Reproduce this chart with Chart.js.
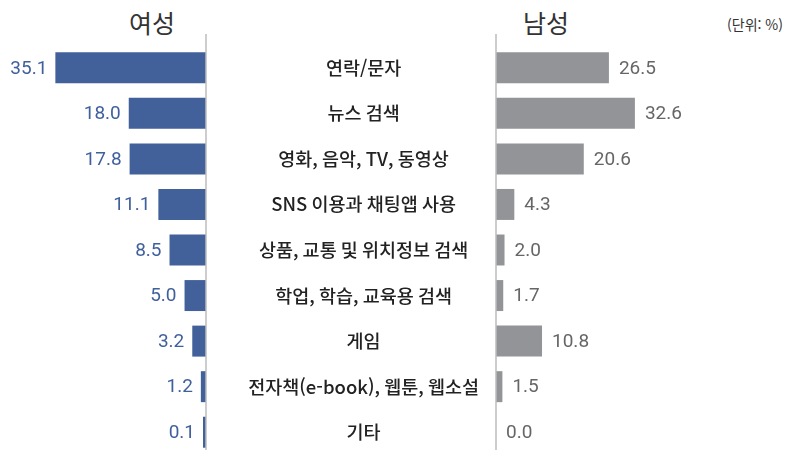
<!DOCTYPE html>
<html lang="ko">
<head>
<meta charset="utf-8">
<script src="https://cdn.jsdelivr.net/npm/chart.js@4"></script>
<style>
  html, body { margin: 0; padding: 0; background: #fff; overflow: hidden; }
  #wrap { position: relative; width: 790px; height: 450px; overflow: hidden; }
  .cv { position: absolute; top: 0; }
  .head { position: absolute; text-align: center; color: #333; font-family: "Noto Sans CJK KR", "Noto Sans", sans-serif; }
</style>
</head>
<body>
<div id="wrap">
  <div class="head" style="left:102px; top:5px; width:100px; font-size:25px; line-height:34px;">여성</div>
  <div class="head" style="left:496px; top:5px; width:100px; font-size:25px; line-height:34px;">남성</div>
  <div class="head" style="left:705px; top:14px; width:100px; font-size:14px; line-height:20px;">(단위: %)</div>
  <div class="cv" style="left:0; width:208px; height:455px;"><canvas id="leftChart"></canvas></div>
  <div class="cv" style="left:206px; width:584px; height:455px;"><canvas id="rightChart"></canvas></div>
</div>
<script>
const categories = ['연락/문자', '뉴스 검색', '영화, 음악, TV, 동영상', 'SNS 이용과 채팅앱 사용',
    '상품, 교통 및 위치정보 검색', '학업, 학습, 교육용 검색', '게임', '전자책(e-book), 웹툰, 웹소설', '기타'];
const female = [35.1, 18.0, 17.8, 11.1, 8.5, 5.0, 3.2, 1.2, 0.1];
const male = [26.5, 32.6, 20.6, 4.3, 2.0, 1.7, 10.8, 1.5, 0.0];

const blue = '#42619b';
const gray = '#939498';

// vertical axis line, runs up above the plot area
const axisLine = {
    id: 'axisLine',
    afterDatasetsDraw(chart, args, opts) {
        const ctx = chart.ctx;
        const x = opts.side === 'right' ? chart.chartArea.right : chart.chartArea.left;
        ctx.save();
        ctx.strokeStyle = '#bcbcbc';
        ctx.lineWidth = 1.5;
        ctx.beginPath();
        ctx.moveTo(x, 34);
        ctx.lineTo(x, chart.height);
        ctx.stroke();
        ctx.restore();
    }
};

// value labels next to the bar ends
const valueLabels = {
    id: 'valueLabels',
    afterDatasetsDraw(chart, args, opts) {
        const ctx = chart.ctx;
        const meta = chart.getDatasetMeta(0);
        const data = chart.data.datasets[0].data;
        ctx.save();
        ctx.font = '19px Roboto, "Noto Sans", sans-serif';
        ctx.fillStyle = opts.color;
        ctx.textBaseline = 'middle';
        meta.data.forEach((bar, i) => {
            const txt = data[i].toFixed(1);
            if (opts.side === 'left') {
                ctx.textAlign = 'right';
                ctx.fillText(txt, bar.x - 8, bar.y + 1);
            } else {
                ctx.textAlign = 'left';
                ctx.fillText(txt, bar.x + 10, bar.y + 1);
            }
        });
        ctx.restore();
    }
};

new Chart(document.getElementById('leftChart'), {
    type: 'bar',
    data: {
        labels: categories,
        datasets: [{
            data: female,
            backgroundColor: blue,
            categoryPercentage: 1,
            barPercentage: 0.68,
            minBarLength: 3
        }]
    },
    options: {
        indexAxis: 'y',
        responsive: true,
        maintainAspectRatio: false,
        animation: false,
        layout: { padding: { top: 45, bottom: 0, left: 0, right: 2 } },
        scales: {
            x: { display: false, reverse: true, min: 0, max: 48 },
            y: { display: false, position: 'right' }
        },
        plugins: {
            legend: { display: false },
            tooltip: { enabled: false },
            axisLine: { side: 'right' },
            valueLabels: { side: 'left', color: '#40609c' }
        }
    },
    plugins: [axisLine, valueLabels]
});

new Chart(document.getElementById('rightChart'), {
    type: 'bar',
    data: {
        labels: categories,
        datasets: [{
            data: male,
            backgroundColor: gray,
            categoryPercentage: 1,
            barPercentage: 0.68
        }]
    },
    options: {
        indexAxis: 'y',
        responsive: true,
        maintainAspectRatio: false,
        animation: false,
        layout: { padding: { top: 45, bottom: 0, left: 0, right: 0 } },
        scales: {
            x: { display: false, min: 0, max: 69 },
            y: {
                position: 'left',
                grid: { display: false, drawTicks: false },
                border: { display: false },
                afterFit: function(scale) {
                    scale.width = 290;
                    // keep the label column from shrinking the plot area
                    scale.paddingTop = 0;
                    scale.paddingBottom = 0;
                },
                ticks: {
                    crossAlign: 'center',
                    padding: 17,
                    color: '#222',
                    font: { family: '"Noto Sans CJK KR", "Noto Sans", sans-serif', size: 18.5, weight: 500 }
                }
            }
        },
        plugins: {
            legend: { display: false },
            tooltip: { enabled: false },
            axisLine: { side: 'left' },
            valueLabels: { side: 'right', color: '#666668' }
        }
    },
    plugins: [axisLine, valueLabels]
});
</script>
</body>
</html>
